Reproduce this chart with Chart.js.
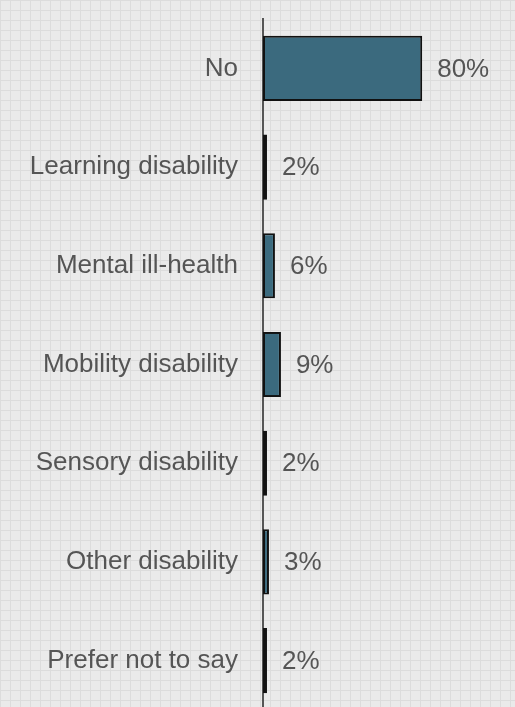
<!DOCTYPE html>
<html>
<head>
<meta charset="utf-8">
<script src="https://cdn.jsdelivr.net/npm/chart.js@4"></script>
<style>
  html, body {
    margin: 0;
    padding: 0;
    overflow: hidden;
    width: 515px;
    height: 707px;
    background-color: #eaeaea;
    background-image:
      linear-gradient(#dcdcdc 1px, transparent 1px),
      linear-gradient(90deg, #dcdcdc 1px, transparent 1px);
    background-size: 10px 10px;
  }
  canvas { display: block; }
</style>
</head>
<body>
<canvas id="graficoDeficiencia" width="515" height="710"></canvas>
<script>
// dados
var categorias = ['No', 'Learning disability', 'Mental ill-health', 'Mobility disability',
  'Sensory disability', 'Other disability', 'Prefer not to say'];
var valores = [80, 2, 6, 9, 2, 3, 2];

var corTexto = '#555555';
var fonte = 'Liberation Sans, Arial, sans-serif';

// rotulos de porcentagem ao lado das barras
var rotulos = {
  id: 'rotulos',
  afterDatasetsDraw: function (chart) {
    var ctx = chart.ctx;
    var meta = chart.getDatasetMeta(0);
    ctx.save();
    ctx.font = '26px ' + fonte;
    ctx.fillStyle = corTexto;
    ctx.textAlign = 'left';
    ctx.textBaseline = 'middle';
    meta.data.forEach(function (bar, i) {
      ctx.fillText(valores[i] + '%', bar.x + 15, bar.y + 1);
    });
    ctx.restore();
  }
};

var ctx = document.getElementById('graficoDeficiencia');
var myChart = new Chart(ctx, {
  type: 'bar',
  data: {
    labels: categorias,
    datasets: [{
      data: valores,
      backgroundColor: '#3b6a7e',
      borderColor: '#111111',
      borderWidth: 2,
      borderSkipped: false,
      barPercentage: 0.66,
      categoryPercentage: 1
    }]
  },
  options: {
    responsive: false,
    animation: false,
    indexAxis: 'y',
    layout: { padding: { top: 19, right: 53, bottom: 0, left: 0 } },
    plugins: {
      legend: { display: false },
      tooltip: { enabled: false }
    },
    scales: {
      x: { display: false, min: 0, max: 100 },
      y: {
        afterFit: function (scale) {
          scale.width = 263;
          scale.paddingTop = 0;
          scale.paddingBottom = 0;
        },
        grid: { display: false, drawTicks: false },
        border: { display: true, color: '#555555', width: 2 },
        ticks: {
          color: corTexto,
          padding: 25,
          font: { family: fonte, size: 26 }
        }
      }
    }
  },
  plugins: [rotulos]
});
</script>
</body>
</html>
